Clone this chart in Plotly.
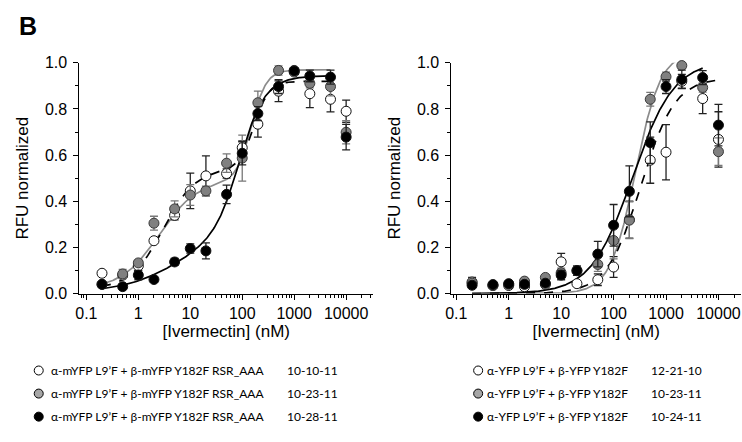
import numpy as np
import plotly.graph_objects as go

# Ivermectin concentrations (nM)
conc = [0.2, 0.5, 1, 2, 5, 10, 20, 50, 100, 200, 500, 1000, 2000, 5000, 10000]

# Left panel: alpha-mYFP L9'F + beta-mYFP Y182F RSR_AAA
left_open = [0.088, 0.08, 0.12, 0.229, 0.339, 0.445, 0.51, 0.52, 0.632, 0.734, 0.877, 0.96, 0.866, 0.842, 0.79]
left_open_err = [0.01, 0.01, 0.01, 0.01, 0.02, 0.077, 0.087, 0.02, 0.03, 0.056, 0.045, 0.01, 0.06, 0.055, 0.048]
left_gray = [0.04, 0.085, 0.133, 0.305, 0.367, 0.427, 0.445, 0.565, 0.587, 0.827, 0.967, 0.967, 0.911, 0.897, 0.699]
left_gray_err = [0.01, 0.02, 0.01, 0.03, 0.035, 0.045, 0.02, 0.04, 0.1, 0.05, 0.02, 0.01, 0.02, 0.04, 0.05]
left_black = [0.04, 0.03, 0.08, 0.061, 0.137, 0.195, 0.185, 0.43, 0.608, 0.78, 0.897, 0.965, 0.943, 0.938, 0.678]
left_black_err = [0.01, 0.01, 0.02, 0.01, 0.015, 0.02, 0.035, 0.04, 0.05, 0.03, 0.03, 0.01, 0.025, 0.03, 0.055]

# Right panel: alpha-YFP L9'F + beta-YFP Y182F
right_open = [0.05, 0.035, 0.035, 0.03, 0.04, 0.1375, 0.043, 0.06, 0.115, 0.32, 0.578, 0.6125, 0.92, 0.845, 0.668]
right_open_err = [0.02, 0.01, 0.01, 0.01, 0.01, 0.037, 0.01, 0.025, 0.045, 0.08, 0.1, 0.12, 0.03, 0.065, 0.12]
right_gray = [0.045, 0.035, 0.04, 0.054, 0.07, 0.09, 0.1, 0.126, 0.23, 0.318, 0.842, 0.94, 0.988, 0.893, 0.615]
right_gray_err = [0.01, 0.01, 0.01, 0.01, 0.01, 0.02, 0.02, 0.03, 0.08, 0.08, 0.03, 0.02, 0.01, 0.02, 0.06]
right_black = [0.036, 0.039, 0.043, 0.04, 0.045, 0.08, 0.099, 0.171, 0.296, 0.443, 0.654, 0.897, 0.928, 0.936, 0.73]
right_black_err = [0.01, 0.01, 0.01, 0.01, 0.01, 0.02, 0.02, 0.055, 0.09, 0.11, 0.09, 0.03, 0.04, 0.03, 0.09]

# Fitted dose-response parameters
# biphasic: [bottom, A1, EC50_1, n1, A2, EC50_2, n2]
left_open_fit = [0.02, 0.52, 3.0, 1.4, 0.38, 170.0, 3.0]
left_gray_fit = [0.02, 0.47, 2.5, 1.2, 0.48, 150.0, 3.0]
left_black_fit = [0.005, 0.26, 6.0, 0.8, 0.68, 90.0, 1.8]
# monophasic Hill: [bottom, top, EC50, n]
right_open_fit = [0.0, 0.935, 330.0, 1.35]
right_gray_fit = [0.0, 1.05, 260.0, 1.8]
right_black_fit = [0.0, 1.01, 230.0, 1.1]

legend_left = ["α-mYFP L9’F + β-mYFP Y182F RSR_AAA"] * 3
legend_left_dates = ["10-10-11", "10-23-11", "10-28-11"]
legend_right = ["α-YFP L9’F + β-YFP Y182F"] * 3
legend_right_dates = ["12-21-10", "10-23-11", "10-24-11"]

x_ticks = [0.1, 1, 10, 100, 1000, 10000]
x_ticktext = ["0.1", "1", "10", "100", "1000", "10000"]
y_ticks = [0.0, 0.2, 0.4, 0.6, 0.8, 1.0]


def hill(x, bottom, top, ec50, n):
    return bottom + (top - bottom) / (1.0 + (ec50 / x) ** n)


def biphasic(x, b, a1, ec1, n1, a2, ec2, n2):
    return b + a1 / (1.0 + (ec1 / x) ** n1) + a2 / (1.0 + (ec2 / x) ** n2)


WHITE = "white"
GRAY = "#808080"
BLACK = "black"
GRAY_LINE = "#8c8c8c"

fig = go.Figure()


def add_points(y, err, fill, bar_color, xa, ya):
    fig.add_trace(go.Scatter(
        x=conc, y=y, mode="markers", xaxis=xa, yaxis=ya, cliponaxis=False,
        marker=dict(size=10, color=fill, line=dict(color="#111111" if fill != GRAY else "#3a3a3a", width=1)),
        error_y=dict(type="data", array=err, visible=True, color=bar_color, thickness=1.3, width=4),
        showlegend=False, hoverinfo="skip"))


def add_curve(xs, ys, color, dash, xa, ya):
    fig.add_trace(go.Scatter(
        x=xs, y=ys, mode="lines", xaxis=xa, yaxis=ya,
        line=dict(color=color, width=1.7, dash=dash),
        showlegend=False, hoverinfo="skip"))


# Left panel curves
xs_l = np.logspace(np.log10(0.2), np.log10(5000), 300)
add_curve(xs_l, biphasic(xs_l, *left_gray_fit), GRAY_LINE, "solid", "x", "y")
add_curve(xs_l, biphasic(xs_l, *left_open_fit), BLACK, "dash", "x", "y")
add_curve(xs_l, biphasic(xs_l, *left_black_fit), BLACK, "solid", "x", "y")

# Right panel curves
xs_r_open = np.logspace(np.log10(0.2), np.log10(10000), 300)
xs_r_gray = np.logspace(np.log10(0.2), np.log10(2000), 300)
xs_r_black = np.logspace(np.log10(0.2), np.log10(5000), 300)
add_curve(xs_r_gray, hill(xs_r_gray, *right_gray_fit), GRAY_LINE, "solid", "x2", "y2")
add_curve(xs_r_open, hill(xs_r_open, *right_open_fit), BLACK, "dash", "x2", "y2")
add_curve(xs_r_black, hill(xs_r_black, *right_black_fit), BLACK, "solid", "x2", "y2")

# Data points
add_points(left_open, left_open_err, WHITE, "#222222", "x", "y")
add_points(left_gray, left_gray_err, GRAY, "#777777", "x", "y")
add_points(left_black, left_black_err, BLACK, "#222222", "x", "y")
add_points(right_open, right_open_err, WHITE, "#222222", "x2", "y2")
add_points(right_gray, right_gray_err, GRAY, "#777777", "x2", "y2")
add_points(right_black, right_black_err, BLACK, "#222222", "x2", "y2")

W, H = 742, 442
FONT = "Liberation Sans, Arial, sans-serif"

minor_x = [m * 10.0 ** d for d in range(-2, 5) for m in range(2, 10)]
minor_y = [0.1, 0.3, 0.5, 0.7, 0.9]


def xaxis_cfg(domain, rng):
    return dict(
        domain=domain, type="log", range=rng,
        showline=True, linecolor="black", linewidth=1, mirror=False,
        ticks="outside", ticklen=5, tickwidth=1, tickcolor="black",
        tickmode="array", tickvals=x_ticks, ticktext=x_ticktext,
        minor=dict(tickmode="array", tickvals=minor_x, ticks="outside", ticklen=3,
                   tickwidth=1, tickcolor="black", showgrid=False),
        showgrid=False, zeroline=False,
        tickfont=dict(family=FONT, size=16, color="black"),
        title=dict(text="[Ivermectin] (nM)", font=dict(family=FONT, size=17, color="black"), standoff=3),
    )


def yaxis_cfg(domain):
    return dict(
        domain=domain, range=[0, 1.0],
        showline=True, linecolor="black", linewidth=1,
        ticks="outside", ticklen=5, tickwidth=1, tickcolor="black",
        ticklabelstandoff=3,
        tickmode="array", tickvals=y_ticks, ticktext=[f"{v:.1f}" for v in y_ticks],
        minor=dict(tickmode="array", tickvals=minor_y, ticks="outside", ticklen=3,
                   tickwidth=1, tickcolor="black", showgrid=False),
        showgrid=False, zeroline=False,
        tickfont=dict(family=FONT, size=16, color="black"),
        title=dict(text="RFU normalized", font=dict(family=FONT, size=17, color="black"), standoff=11),
    )


ydom = [(H - 297) / H, (H - 57) / H]
xl = xaxis_cfg([74 / W, 370 / W], [-1.134, 4.517])
xl["anchor"] = "y"
xr = xaxis_cfg([449 / W, 741 / W], [-1.094, 4.43])
xr["anchor"] = "y2"
yl = yaxis_cfg(ydom)
yl["anchor"] = "x"
yr = yaxis_cfg(ydom)
yr["anchor"] = "x2"

fig.update_layout(
    width=W, height=H, margin=dict(l=0, r=0, t=0, b=0),
    paper_bgcolor="white", plot_bgcolor="white",
    xaxis=xl, yaxis=yl, xaxis2=xr, yaxis2=yr,
    showlegend=False,
)

annotations = [dict(text="<b>B</b>", x=11 / W, y=1 - 19 / H, xref="paper", yref="paper",
                    xanchor="left", yanchor="middle", showarrow=False,
                    font=dict(family=FONT, size=25, color="black"))]
shapes = []
LEG_FONT = "Lato, Noto Sans, sans-serif"
fills = [WHITE, "#a6a6a6", BLACK]
rows = [377, 401, 425]
for i, yy in enumerate(rows):
    for cx, tx, dx, labels, dates in [(33, 43, 281, legend_left, legend_left_dates),
                                      (476, 483, 648, legend_right, legend_right_dates)]:
        shapes.append(dict(type="circle", xref="paper", yref="paper",
                           xsizemode="pixel", ysizemode="pixel",
                           xanchor=cx / W, yanchor=1 - yy / H,
                           x0=-4.5, x1=4.5, y0=-4.5, y1=4.5,
                           fillcolor=fills[i], line=dict(color="black", width=1)))
        annotations.append(dict(text=labels[i], x=tx / W, y=1 - yy / H, xref="paper", yref="paper",
                                xanchor="left", yanchor="middle", showarrow=False,
                                font=dict(family=LEG_FONT, size=12, color="black")))
        annotations.append(dict(text=dates[i], x=dx / W, y=1 - yy / H, xref="paper", yref="paper",
                                xanchor="left", yanchor="middle", showarrow=False,
                                font=dict(family=LEG_FONT, size=12, color="black")))

fig.update_layout(annotations=annotations, shapes=shapes)
fig.write_html("out.html")
